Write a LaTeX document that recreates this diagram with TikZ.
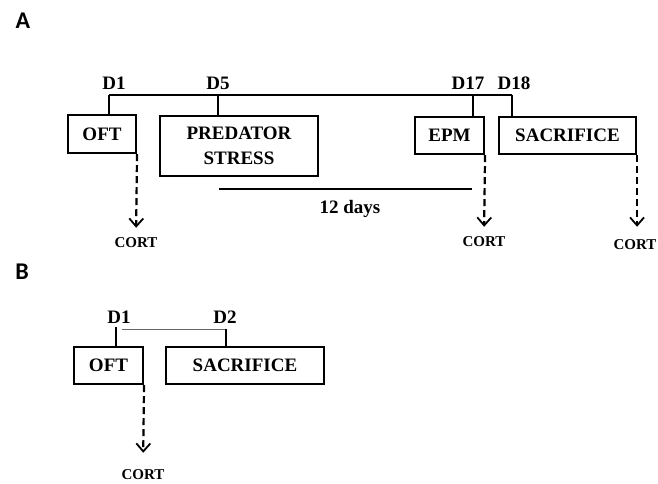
\documentclass[tikz,border=0pt]{standalone}
\usepackage{fontspec}
\setmainfont{Liberation Serif}
\newfontfamily\panelfont{Carlito}
\usetikzlibrary{arrows.meta}

\begin{document}
\begin{tikzpicture}[x=1pt,y=-1pt,
    box/.style={draw, line width=2.1pt, inner sep=0pt, align=center,
        font=\fontsize{19}{25}\selectfont\bfseries},
    day/.style={inner sep=0pt, font=\fontsize{19}{21}\selectfont\bfseries},
    cort/.style={inner sep=0pt, font=\fontsize{15}{17}\selectfont\bfseries},
    panel/.style={inner sep=0pt, font=\fontsize{24}{26}\selectfont\panelfont\bfseries},
    tline/.style={line width=2.1pt},
    sample/.style={line width=2.2pt, dash pattern=on 7pt off 4pt, shorten >=10pt,
        -{Straight Barb[length=8pt,width=14pt,line width=1.8pt]}}]
    \useasboundingbox (0,0) rectangle (658,483);

    % panel A
    \node[panel] (labA) at (23,21) {A};
    \node[day] (dA1) at (114,83) {D1};
    \node[day] (dA5) at (218,83) {D5};
    \node[day] (dA17) at (468,83) {D17};
    \node[day] (dA18) at (514,83) {D18};
    \coordinate (tA1) at (109,95);
    \coordinate (tA5) at (218,95);
    \coordinate (tA17) at (473,95);
    \coordinate (tA18) at (512,95);
    \node[box, minimum width=68pt, minimum height=38pt] (oftA) at (102,134) {OFT};
    \node[box, minimum width=158pt, minimum height=60pt] (pred) at (239,146) {PREDATOR\\STRESS};
    \node[box, minimum width=69pt, minimum height=37pt] (epm) at (449.5,135.5) {EPM};
    \node[box, minimum width=137pt, minimum height=37pt] (sacA) at (567.5,135.5) {SACRIFICE};
    \draw[tline] (tA1) -- (tA18);
    \draw[tline] (tA1) -- (tA1 |- oftA.north);
    \draw[tline] (tA5) -- (tA5 |- pred.north);
    \draw[tline] (tA17) -- (tA17 |- epm.north);
    \draw[tline] (tA18) -- (tA18 |- sacA.north);
    \coordinate (sp1) at (219,189);
    \coordinate (sp2) at (472,189);
    \draw[tline] (sp1) -- (sp2);
    \node[day] (span) at (350,209) {12 days};
    \node[cort] (cA1) at (136,243) {CORT};
    \node[cort] (cA2) at (484,242) {CORT};
    \node[cort] (cA3) at (635,245) {CORT};
    \draw[sample] (oftA.south east) -- (cA1.north);
    \draw[sample] (epm.south east) -- (cA2.north);
    \draw[sample, shorten >=13pt] (sacA.south east) -- (cA3.north -| sacA.south east);

    % panel B
    \node[panel] (labB) at (22,272) {B};
    \node[day] (dB1) at (119,317) {D1};
    \node[day] (dB2) at (225,317) {D2};
    \coordinate (tB1) at (116,327);
    \coordinate (tB0) at (122,329);
    \coordinate (tB2) at (226,329);
    \node[box, minimum width=69pt, minimum height=37pt] (oftB) at (108.5,365.5) {OFT};
    \node[box, minimum width=158pt, minimum height=37pt] (sacB) at (245,365.5) {SACRIFICE};
    \draw[line width=1pt, black!60] (tB0) -- (tB2);
    \draw[tline] (tB1) -- (tB1 |- oftB.north);
    \draw[tline] (tB2) -- (tB2 |- sacB.north);
    \node[cort] (cB) at (143,475) {CORT};
    \draw[sample, shorten >=17pt] (oftB.south east) -- (cB.north);
\end{tikzpicture}
\end{document}
